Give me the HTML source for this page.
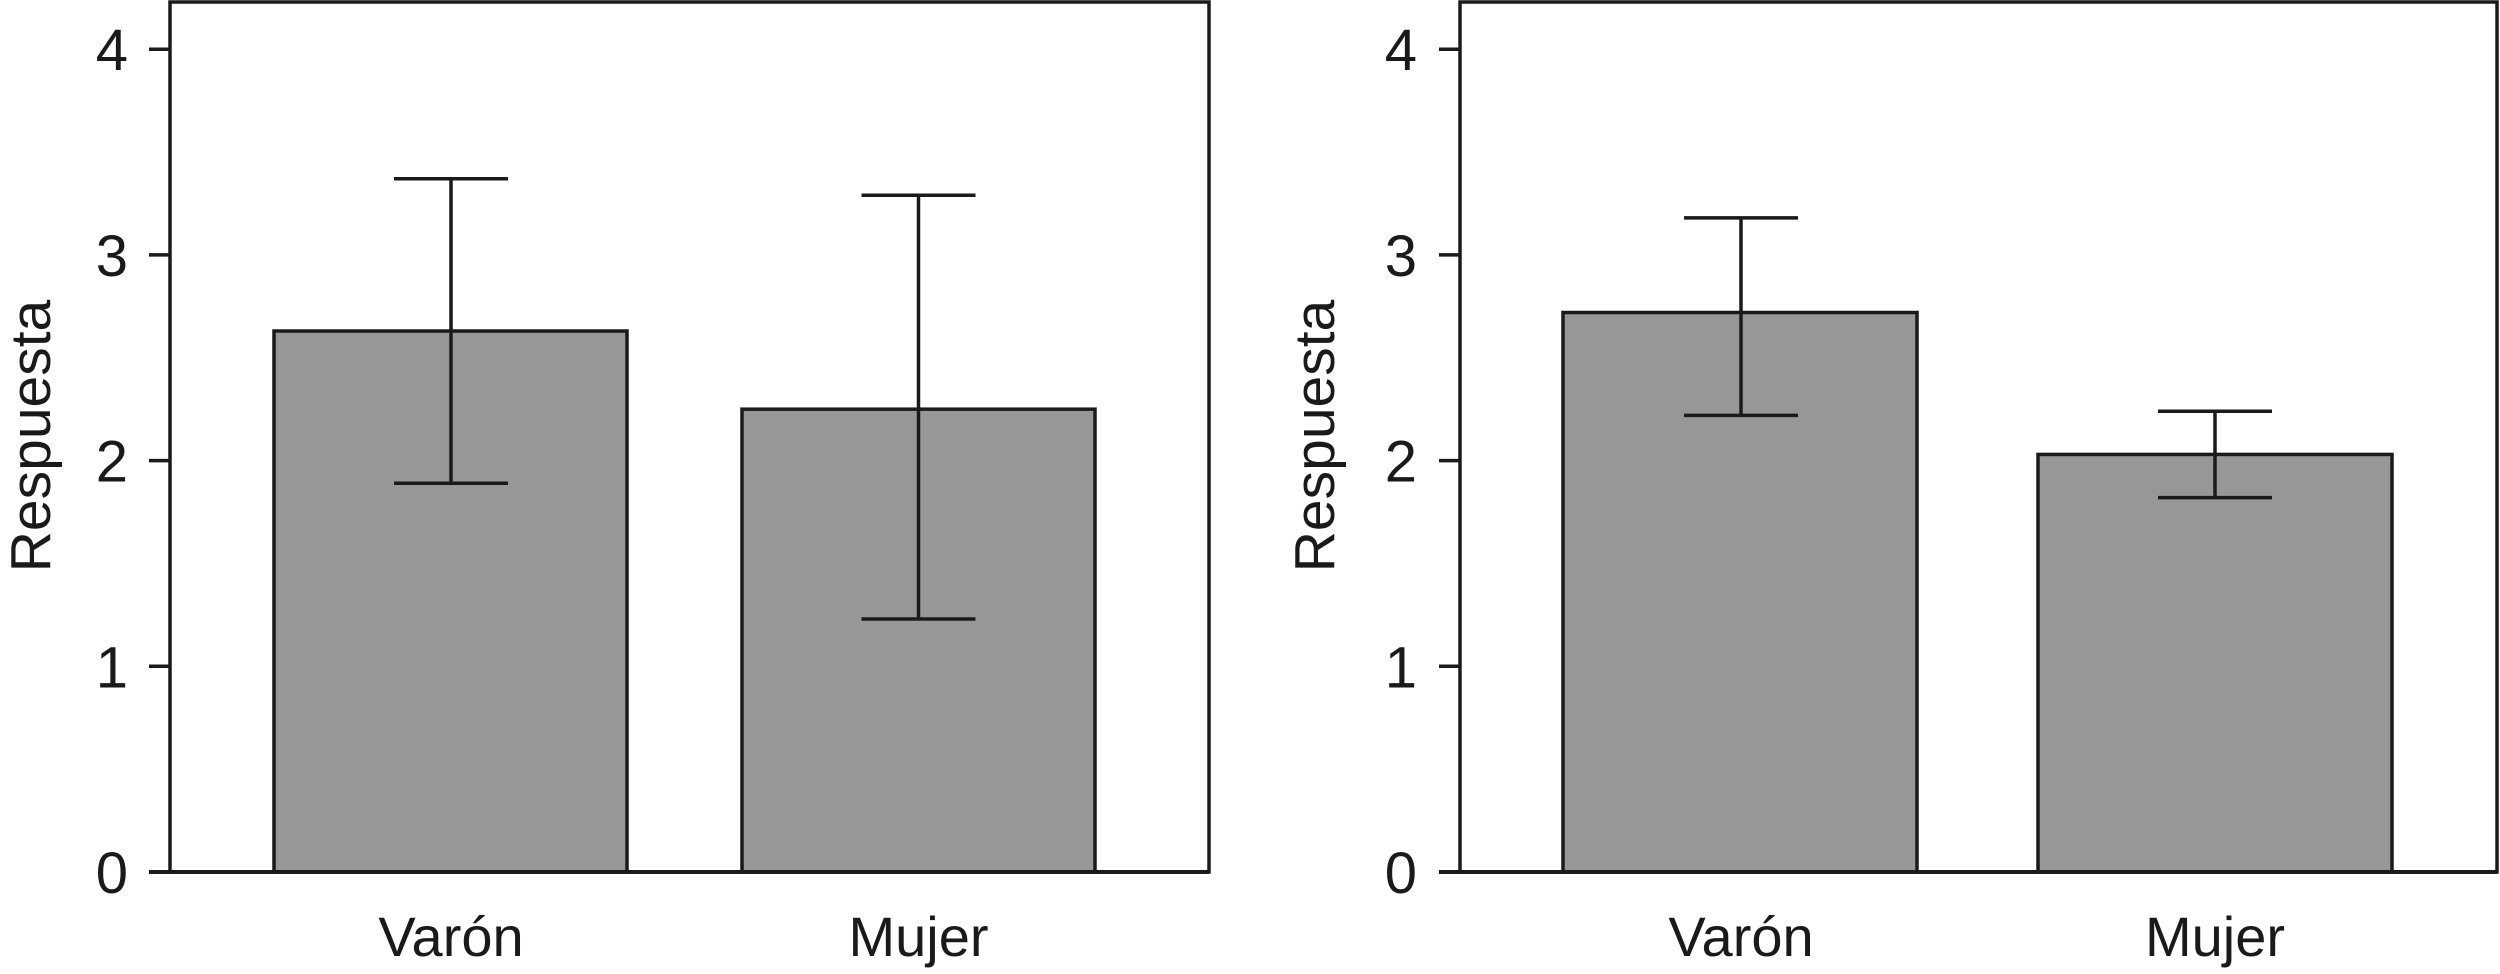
<!DOCTYPE html>
<html><head><meta charset="utf-8"><style>
html,body{margin:0;padding:0;background:#fff;}
svg{display:block;}
text{font-family:"Liberation Sans",sans-serif;fill:#1a1a1a;}
</style></head><body>
<svg id="chart" width="2500" height="974" viewBox="0 0 2500 974" xmlns="http://www.w3.org/2000/svg"></svg>
<script>
const categories = ["Varón", "Mujer"];
const leftMeans = [2.63, 2.25];
const leftUpper = [3.37, 3.29];
const leftLower = [1.89, 1.23];
const rightMeans = [2.72, 2.03];
const rightUpper = [3.18, 2.24];
const rightLower = [2.22, 1.82];
const yTicks = [0, 1, 2, 3, 4];
const yLabel = "Respuesta";

const svg = document.getElementById('chart');
const NS = 'http://www.w3.org/2000/svg';
function mk(tag, attrs, parent) {
  const e = document.createElementNS(NS, tag);
  for (const k in attrs) e.setAttribute(k, attrs[k]);
  (parent || svg).appendChild(e);
  return e;
}
const y0 = 872, unit = 205.7;
function yScale(v) { return y0 - v * unit; }

function panel(name, ax, right, bars, centers, capHalf, tickRight, labelX, means, ups, lows) {
  const g = mk('g', {});
  
  
  const frame = mk('rect', {x: ax, y: 2, width: right - ax, height: y0 - 2, fill: 'none', stroke: '#1a1a1a', 'stroke-width': 3.5}, g);
  
  
  yTicks.forEach(t => {
    const y = yScale(t);
    const l = mk('line', {x1: ax - 21, x2: ax, y1: y, y2: y, stroke: '#1a1a1a', 'stroke-width': 3.5}, g);
    
    
    const tx = mk('text', {x: tickRight, y: y + 21, 'text-anchor': 'end', 'font-size': 58}, g);
    tx.textContent = t;
    
    
  });
  const yl = mk('text', {x: 0, y: 0, 'text-anchor': 'middle', 'font-size': 57, transform: `translate(${labelX + 20},436) rotate(-90)`}, g);
  yl.textContent = yLabel;
  
  
  categories.forEach((c, i) => {
    const top = yScale(means[i]);
    const r = mk('rect', {x: bars[i][0], y: top, width: bars[i][1] - bars[i][0], height: y0 - top, fill: '#979797', stroke: '#1a1a1a', 'stroke-width': 3.5}, g);
    
    
    const cx = centers[i];
    const eb = mk('path', {d: `M${cx},${yScale(ups[i])}V${yScale(lows[i])}M${cx - capHalf},${yScale(ups[i])}H${cx + capHalf}M${cx - capHalf},${yScale(lows[i])}H${cx + capHalf}`, stroke: '#1a1a1a', 'stroke-width': 3.5, fill: 'none'}, g);
    
    
    const cl = mk('text', {x: cx, y: 956, 'text-anchor': 'middle', 'font-size': 56}, g);
    cl.textContent = c;
    
    
  });
  const base = mk('line', {x1: ax - 21, x2: right, y1: y0, y2: y0, stroke: '#1a1a1a', 'stroke-width': 4}, g);
  
  
}
panel('left-chart', 170, 1209, [[274, 627], [742, 1095]], [451, 918.5], 57, 128, 30, leftMeans, leftUpper, leftLower);
panel('right-chart', 1460, 2497, [[1563, 1917], [2038, 2392]], [1741, 2215], 57, 1417, 1314, rightMeans, rightUpper, rightLower);
</script>
</body></html>
